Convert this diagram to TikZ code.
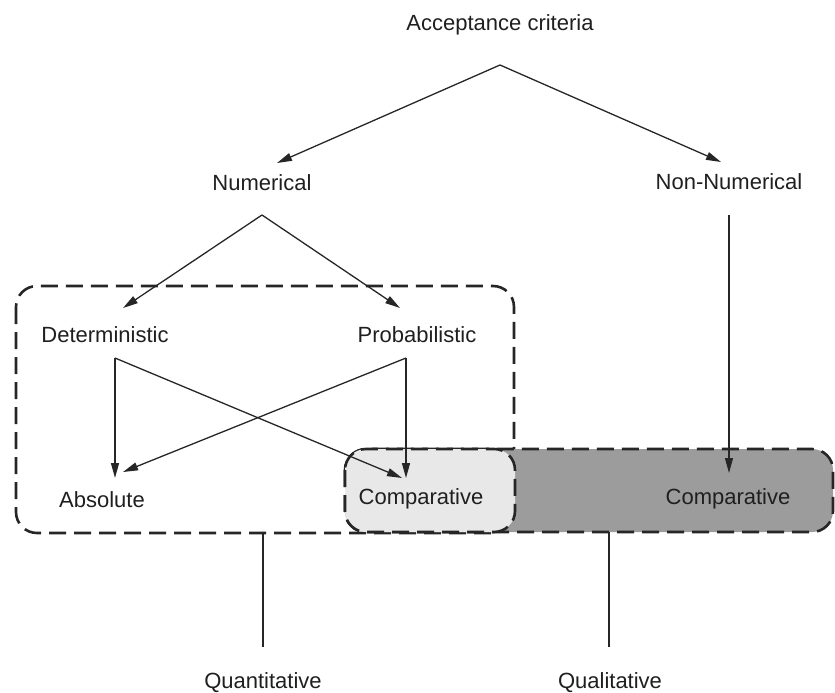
\documentclass[tikz,border=0pt]{standalone}
\usepackage{fontspec}
\setmainfont{Liberation Sans}
\usetikzlibrary{arrows.meta}
\begin{document}
\begin{tikzpicture}[x=1pt,y=-1pt,
  label/.style={font=\fontsize{22}{26}\selectfont, text=black!88, inner sep=0pt},
  link/.style={line width=1.3pt, draw=black!85},
  arrowlink/.style={link, -{Triangle[length=15pt,width=8pt]}},
  zone/.style={line width=2.6pt, draw=black!85, dash pattern=on 17pt off 8pt, rounded corners=21pt},
]
\useasboundingbox (0,0) rectangle (835,693);

% grouping regions
\draw[zone] (16,286) rectangle (514,533);
\draw[zone, fill=black!39] (345,449) rectangle (833,532);
\draw[zone, fill=black!9] (345,449) rectangle (515,532);

% labels
\node[label] (acc)    at (500,25)  {Acceptance criteria};
\node[label] (num)    at (262,183) {Numerical};
\node[label] (nonnum) at (729,182) {Non-Numerical};
\node[label] (det)    at (105,335) {Deterministic};
\node[label] (prob)   at (417,335) {Probabilistic};
\node[label] (abs)    at (102,500) {Absolute};
\node[label] (compA)  at (421,499) {Comparative};
\node[label] (compB)  at (728,499) {Comparative};
\node[label] (quant)  at (263,683) {Quantitative};
\node[label] (qual)   at (610,683) {Qualitative};

% branching points and arrow ends
\coordinate (accFork)  at (500,65);
\coordinate (numIn)    at (277,163);
\coordinate (nonnumIn) at (721,162);
\coordinate (numFork)  at (262,215);
\coordinate (detIn)    at (123,308);
\coordinate (probIn)   at (400,308);
\coordinate (detFork)  at (115,358);
\coordinate (probFork) at (406,358);
\coordinate (absInA)   at (115,478);
\coordinate (absInB)   at (123,472);
\coordinate (compInA)  at (402,478);
\coordinate (compInB)  at (406,478);
\coordinate (nonnumOut) at (729,215);
\coordinate (compBIn)  at (729,473);
\coordinate (quantTop) at (263,533);
\coordinate (quantEnd) at (263,647);
\coordinate (qualTop)  at (609,532);
\coordinate (qualEnd)  at (609,647);

% connectors
\draw[arrowlink] (accFork) -- (numIn);
\draw[arrowlink] (accFork) -- (nonnumIn);
\draw[arrowlink] (numFork) -- (detIn);
\draw[arrowlink] (numFork) -- (probIn);
\draw[arrowlink] (detFork) -- (absInA);
\draw[arrowlink] (detFork) -- (compInA);
\draw[arrowlink] (probFork) -- (compInB);
\draw[arrowlink] (probFork) -- (absInB);
\draw[arrowlink] (nonnumOut) -- (compBIn);
\draw[link] (quantTop) -- (quantEnd);
\draw[link] (qualTop) -- (qualEnd);
\end{tikzpicture}
\end{document}
